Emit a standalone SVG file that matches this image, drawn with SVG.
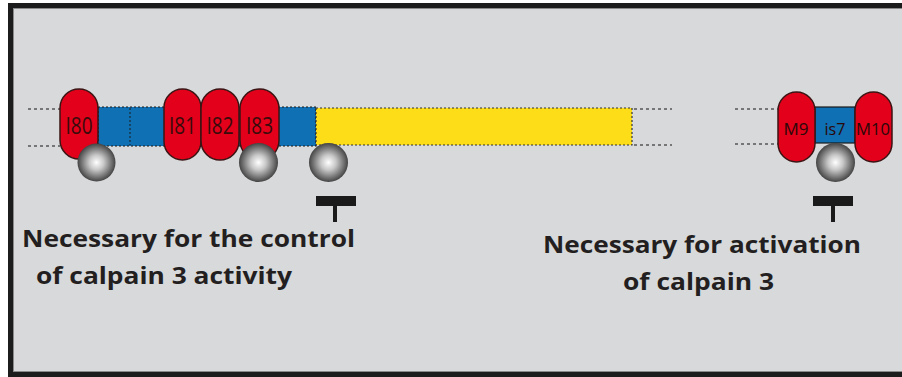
<svg xmlns="http://www.w3.org/2000/svg" width="902" height="377" viewBox="0 0 902 377">
  <defs>
    <radialGradient id="ball" cx="0.5" cy="0.5" r="0.55" fx="0.5" fy="0.5">
      <stop offset="0" stop-color="#ffffff"/>
      <stop offset="0.35" stop-color="#c8c8c8"/>
      <stop offset="0.8" stop-color="#5e5e5e"/>
      <stop offset="1" stop-color="#2e2e2e"/>
    </radialGradient>
    <style>
      .pill { fill: #e2001a; stroke: #3b1515; stroke-width: 1.5; }
      .blue { fill: #0f70b3; stroke: #1a1a1a; stroke-width: 1.2; stroke-dasharray: 2 2; }
      .yellow { fill: #fddd17; stroke: #333; stroke-width: 1.2; stroke-dasharray: 2 2; }
      .dots { stroke: #555; stroke-width: 1.6; stroke-dasharray: 3 3; fill: none; }
      .div { stroke: #1a1a1a; stroke-width: 1; stroke-dasharray: 2 2; }
      .ball { fill: url(#ball); }
      .lab { font-family: "Open Sans", "Liberation Sans", sans-serif; font-size: 24px; fill: #3a0b0b; text-anchor: middle; }
      .lab2 { font-family: "Open Sans", "Liberation Sans", sans-serif; font-size: 17px; fill: #2a0808; text-anchor: middle; }
      .cap { font-family: "Open Sans", "Liberation Sans", sans-serif; font-weight: bold; font-size: 24px; fill: #231f20; }
      .tbar { fill: #1a1a1a; }
    </style>
  </defs>

  <!-- frame -->
  <rect x="8" y="3" width="900" height="374" fill="#1c1c1c"/>
  <rect x="13" y="8" width="895" height="364" fill="#8a8a8a"/>
  <rect x="14" y="9" width="894" height="362" fill="#d8d9db"/>

  <g id="connectors">
    <line class="dots" x1="28" y1="109" x2="60" y2="109"/>
    <line class="dots" x1="28" y1="146" x2="60" y2="146"/>
    <line class="dots" x1="634" y1="109" x2="672" y2="109"/>
    <line class="dots" x1="634" y1="145" x2="672" y2="145"/>
    <line class="dots" x1="735" y1="109" x2="778" y2="109"/>
    <line class="dots" x1="735" y1="144" x2="778" y2="144"/>
  </g>

  <g id="linker-left">
    <rect class="blue" x="98" y="107" width="218" height="39"/>
    <line class="div" x1="130" y1="108" x2="130" y2="145"/>
  </g>
  <g id="yellow-domain">
    <rect class="yellow" x="316" y="108" width="316" height="37"/>
  </g>

  <g id="I80">
    <rect class="pill" x="60" y="89" width="38" height="70" rx="19"/>
    <text class="lab" x="79" y="134" textLength="27" lengthAdjust="spacingAndGlyphs">I80</text>
  </g>
  <g id="I81">
    <rect class="pill" x="164" y="89" width="37" height="71" rx="18.5"/>
    <text class="lab" x="182.5" y="134" textLength="27" lengthAdjust="spacingAndGlyphs">I81</text>
  </g>
  <g id="I82">
    <rect class="pill" x="201" y="89" width="38" height="71" rx="19"/>
    <text class="lab" x="220" y="134" textLength="27" lengthAdjust="spacingAndGlyphs">I82</text>
  </g>
  <g id="I83">
    <rect class="pill" x="240" y="89" width="39" height="71" rx="19.5"/>
    <text class="lab" x="259.5" y="134" textLength="27" lengthAdjust="spacingAndGlyphs">I83</text>
  </g>

  <g id="is7">
    <rect x="815" y="107" width="40" height="36" fill="#0f70b3" stroke="#1a1a1a" stroke-width="1.2"/>
    <text class="lab2" x="835" y="135" textLength="21" lengthAdjust="spacingAndGlyphs">is7</text>
  </g>
  <g id="M9">
    <rect class="pill" x="778" y="92" width="37" height="70" rx="18.5"/>
    <text class="lab2" x="796" y="135" textLength="25" lengthAdjust="spacingAndGlyphs">M9</text>
  </g>
  <g id="M10">
    <rect class="pill" x="855" y="92" width="37" height="70" rx="18.5"/>
    <text class="lab2" x="873" y="135" textLength="34" lengthAdjust="spacingAndGlyphs">M10</text>
  </g>

  <g id="balls">
    <circle class="ball" cx="96.5" cy="162.5" r="19"/>
    <circle class="ball" cx="258.5" cy="162.5" r="19.5"/>
    <circle class="ball" cx="328.5" cy="162.5" r="19.5"/>
    <circle class="ball" cx="835.5" cy="162.5" r="19.5"/>
  </g>

  <g id="inhibit-left">
    <rect class="tbar" x="316" y="196" width="40" height="10"/>
    <rect class="tbar" x="333" y="206" width="4" height="16"/>
  </g>
  <g id="inhibit-right">
    <rect class="tbar" x="813" y="196" width="40" height="10"/>
    <rect class="tbar" x="831" y="206" width="4" height="16"/>
  </g>

  <g id="label-left">
    <text class="cap" x="22" y="247" textLength="333" lengthAdjust="spacingAndGlyphs">Necessary for the control</text>
    <text class="cap" x="36" y="284" textLength="256" lengthAdjust="spacingAndGlyphs">of calpain 3 activity</text>
  </g>
  <g id="label-right">
    <text class="cap" x="543" y="253" textLength="318" lengthAdjust="spacingAndGlyphs">Necessary for activation</text>
    <text class="cap" x="623" y="290" textLength="151" lengthAdjust="spacingAndGlyphs">of calpain 3</text>
  </g>
</svg>
